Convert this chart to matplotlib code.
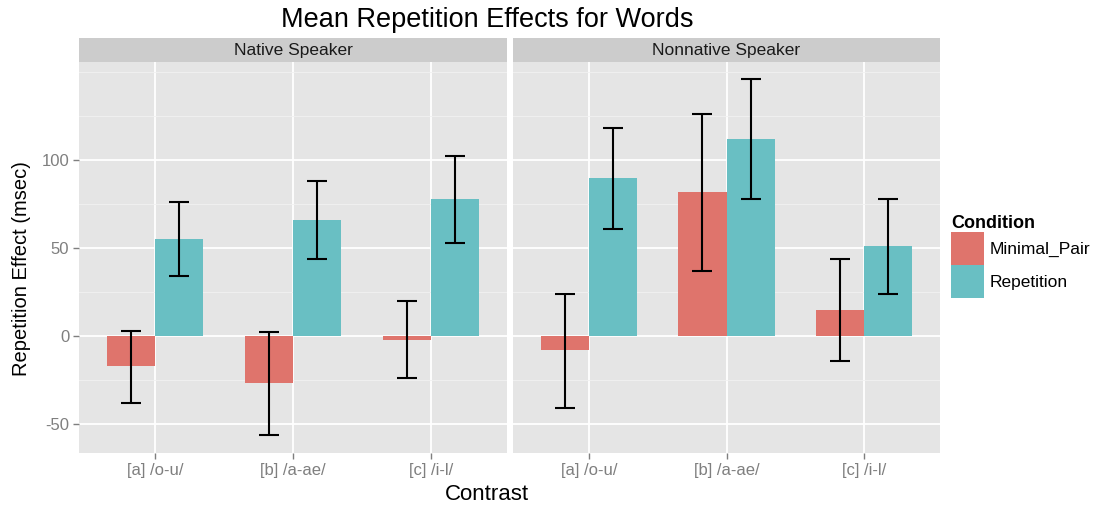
import numpy as np
import matplotlib
matplotlib.use("Agg")
import matplotlib.pyplot as plt

# ── data ─────────────────────────────────────────────────────────────────────
contrasts = ["[a] /o-u/", "[b] /a-ae/", "[c] /i-l/"]
speakers = ["Native Speaker", "Nonnative Speaker"]
conditions = ["Minimal_Pair", "Repetition"]

native_mp = [-17, -27, -2]
native_mp_lo = [-38, -56, -24]
native_mp_hi = [3, 2, 20]
native_rep = [55, 66, 78]
native_rep_lo = [34, 44, 53]
native_rep_hi = [76, 88, 102]

nonnative_mp = [-8, 82, 15]
nonnative_mp_lo = [-41, 37, -14]
nonnative_mp_hi = [24, 126, 44]
nonnative_rep = [90, 112, 51]
nonnative_rep_lo = [61, 78, 24]
nonnative_rep_hi = [118, 146, 78]

# ── style ────────────────────────────────────────────────────────────────────
W, H = 1098, 508
COLORS = ["#DF746C", "#69BFC3"]
PANEL_BG = "#E5E5E5"
STRIP_BG = "#CCCCCC"
TICK_COL = "#7F7F7F"
BAR_W = 0.35
YLIM = (-66.5, 155.7)


def px_axes(fig, left, top, right, bottom):
    return fig.add_axes([left / W, 1 - bottom / H, (right - left) / W, (bottom - top) / H])


plt.rcParams["font.family"] = ["Liberation Sans", "DejaVu Sans"]
plt.rcParams["axes.unicode_minus"] = False
fig = plt.figure(figsize=(W / 100, H / 100), dpi=100)

panels = [
    (79, 507, (native_mp, native_mp_lo, native_mp_hi), (native_rep, native_rep_lo, native_rep_hi)),
    (513, 940, (nonnative_mp, nonnative_mp_lo, nonnative_mp_hi), (nonnative_rep, nonnative_rep_lo, nonnative_rep_hi)),
]

x = np.arange(1, len(contrasts) + 1)
handles = []
for i, (left, right, mp, rep) in enumerate(panels):
    ax = px_axes(fig, left, 62, right, 453)
    ax.set_facecolor(PANEL_BG)
    for s in ax.spines.values():
        s.set_visible(False)
    ax.set_xlim(0.45, 3.55)
    ax.set_ylim(*YLIM)
    ax.set_yticks([-50, 0, 50, 100])
    ax.set_yticks([-25, 25, 75, 125, 150], minor=True)
    ax.set_xticks(x)
    ax.set_xticklabels(contrasts)
    ax.grid(True, which="major", color="white", lw=1.3)
    ax.grid(True, which="minor", axis="y", color="#F2F2F2", lw=0.6)
    ax.set_axisbelow(True)
    ax.tick_params(which="major", colors=TICK_COL, labelcolor=TICK_COL,
                   labelsize=12, length=4, width=1, pad=3)
    ax.tick_params(which="minor", length=0)
    if i > 0:
        ax.tick_params(axis="y", labelleft=False, length=0)

    for j, (vals, lo, hi) in enumerate([mp, rep]):
        xs = x + (j - 0.5) * BAR_W
        vals = np.array(vals)
        b = ax.bar(xs, vals, width=BAR_W, color=COLORS[j], label=conditions[j], zorder=2)
        ax.errorbar(xs, vals, yerr=[vals - np.array(lo), np.array(hi) - vals],
                    fmt="none", ecolor="black", elinewidth=1.5, capsize=7,
                    capthick=1.5, zorder=3)
        if i == 0:
            handles.append(b)

    # strip
    sax = px_axes(fig, left, 38, right, 62)
    sax.set_facecolor(STRIP_BG)
    sax.set_xticks([])
    sax.set_yticks([])
    for s in sax.spines.values():
        s.set_visible(False)
    sax.text(0.5, 0.5, speakers[i], ha="center", va="center", fontsize=12.5,
             color="#1A1A1A", transform=sax.transAxes)

fig.text(487 / W, 1 - 20 / H, "Mean Repetition Effects for Words",
         ha="center", va="center", fontsize=19.5)
fig.text(487 / W, 1 - 494 / H, "Contrast", ha="center", va="center", fontsize=16)
fig.text(22 / W, 1 - 269 / H, "Repetition Effect (msec)", ha="center",
         va="center", rotation=90, fontsize=14.5)

# legend keys ~33 px square, stacked with no gap
leg = fig.legend(handles=handles, labels=conditions, title="Condition",
                 loc="upper left", bbox_to_anchor=(944 / W, 1 - 208 / H),
                 frameon=False, fontsize=12.5, handlelength=1.9,
                 handleheight=2.54, labelspacing=0.0, handletextpad=0.35,
                 borderaxespad=0)
leg.get_title().set_fontweight("bold")
leg.get_title().set_fontsize(13)
leg._legend_box.align = "left"

fig.savefig("out.png", dpi=100)
